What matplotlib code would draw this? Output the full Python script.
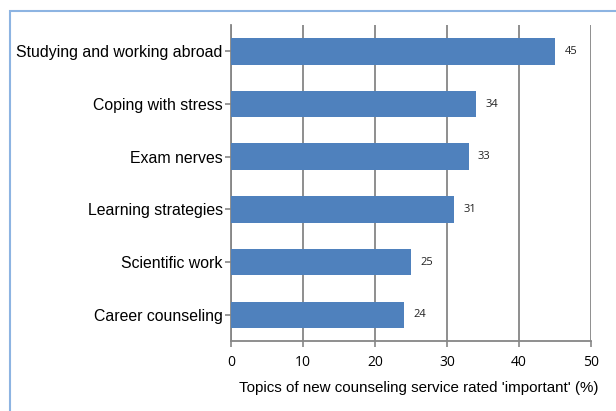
import matplotlib.pyplot as plt
from matplotlib.patches import Rectangle

topics = ["Studying and working abroad", "Coping with stress", "Exam nerves",
          "Learning strategies", "Scientific work", "Career counseling"]
percent = [45, 34, 33, 31, 25, 24]
xticks = [0, 10, 20, 30, 40, 50]

W, H = 616, 411
fig = plt.figure(figsize=(W / 100, H / 100), dpi=100)
ax = fig.add_axes([231 / W, 1 - 341 / H, 360 / W, 316 / H])

gray = "#868686"
ypos = list(range(len(topics)))[::-1]
ax.barh(ypos, percent, height=0.5, color="#4F81BD", zorder=3)

for y, v in zip(ypos, percent):
    ax.text(v + 1.3, y, str(v), va="center", ha="left", fontsize=8,
            family="Open Sans", color="#222222")

ax.set_xlim(0, 50)
ax.set_ylim(-0.5, len(topics) - 0.5)
ax.set_xticks(xticks)
ax.set_xticklabels([str(t) for t in xticks], family="Open Sans", fontsize=10)
ax.set_yticks(ypos)
ax.set_yticklabels(topics, family="Liberation Sans", fontsize=11.4)
ax.xaxis.grid(True, color=gray, linewidth=1.3, zorder=0)
ax.tick_params(axis="both", color=gray, length=4, width=1.2)
ax.tick_params(axis="x", pad=6)
ax.tick_params(axis="y", pad=2)
for s in ["top", "right"]:
    ax.spines[s].set_visible(False)
for s in ["left", "bottom"]:
    ax.spines[s].set_color(gray)
    ax.spines[s].set_linewidth(1.3)

# x label sits a bit right of the axes centre in the original
ax.set_xlabel("Topics of new counseling service rated 'important' (%)",
              family="Liberation Sans", fontsize=10.9)
ax.xaxis.set_label_coords(0.522, -0.125)
ax.xaxis.label.set_verticalalignment("top")

fig.patches.append(Rectangle((10 / W, -0.1), 1.2, 1 - 11 / H + 0.1,
                             transform=fig.transFigure, fill=False,
                             edgecolor="#8DB4E2", linewidth=1.5))

fig.savefig("out.png", dpi=100)
